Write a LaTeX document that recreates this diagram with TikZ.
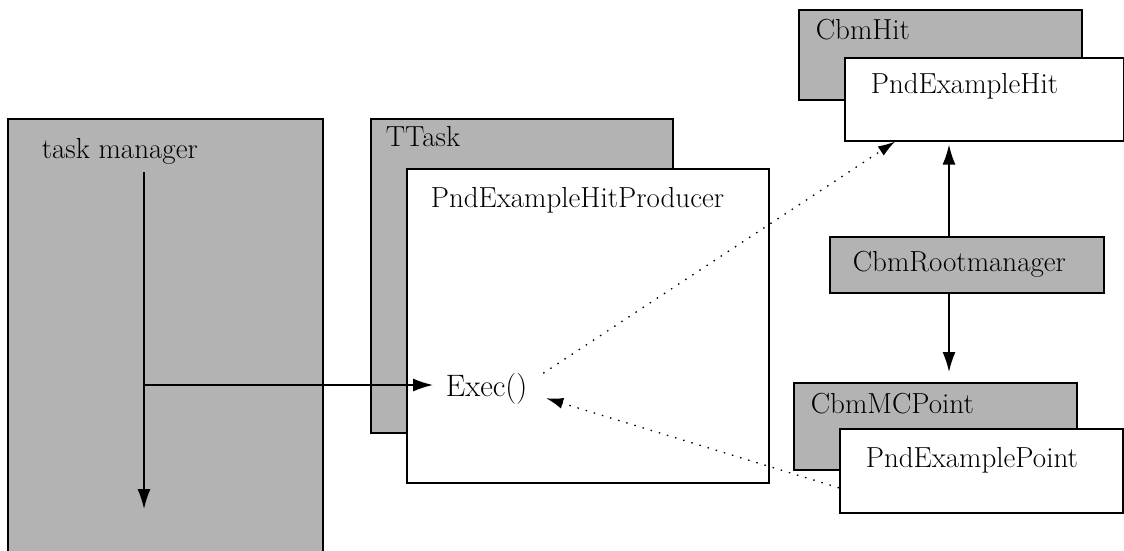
\documentclass[tikz,border=0pt]{standalone}
\usetikzlibrary{arrows.meta}
\definecolor{boxgrey}{RGB}{179,179,179}

\begin{document}
\begin{tikzpicture}[x=1pt,y=-1pt,line width=1.6pt,
  font=\fontsize{29}{35}\selectfont,
  box/.style={draw,anchor=north west,inner sep=0pt,fill=white},
  greybox/.style={box,fill=boxgrey},
  lbl/.style={anchor=base west,inner sep=0pt},
  arr/.style={-{Latex[length=20pt,width=13pt]}},
  dotarr/.style={-{Latex[length=17pt,width=11pt]},line width=1.3pt,dash pattern=on 1.5pt off 7pt}]
\useasboundingbox (0,0) rectangle (1124,551);
\clip (0,0) rectangle (1124,551);
% task manager
\node[greybox,minimum width=315pt,minimum height=445pt] (manager) at (7,118) {};
\node[lbl] (managerlbl) at (41,158) {task manager};
% the task
\node[greybox,minimum width=302pt,minimum height=314pt] (ttask) at (370,118) {};
\node[lbl] (ttasklbl) at (385,146) {TTask};
\node[box,minimum width=362pt,minimum height=314pt] (producer) at (406,168) {};
\node[lbl] (producerlbl) at (430,207) {PndExampleHitProducer};
\node[lbl,font=\fontsize{31}{37}\selectfont] (exec) at (445,396) {Exec()};
% hits
\node[greybox,minimum width=283pt,minimum height=90pt] (cbmhit) at (798,9) {};
\node[lbl] (cbmhitlbl) at (815,40) {CbmHit};
\node[box,minimum width=279pt,minimum height=83pt] (hit) at (844,57) {};
\node[lbl] (hitlbl) at (870,93) {PndExampleHit};
% root manager
\node[greybox,minimum width=274pt,minimum height=56pt] (root) at (829,236) {};
\node[lbl] (rootlbl) at (852,271) {CbmRootmanager};
% points
\node[greybox,minimum width=283pt,minimum height=87pt] (mcpoint) at (793,382) {};
\node[lbl] (mcpointlbl) at (810,413) {CbmMCPoint};
\node[box,minimum width=283pt,minimum height=84pt] (point) at (839,428) {};
\node[lbl] (pointlbl) at (865,467) {PndExamplePoint};
% arrows
\coordinate (mtop) at (144,172);
\coordinate (mfork) at (144,385);
\coordinate (mend) at (144,509);
\draw[arr] (mtop) -- (mend);
\draw[arr,shorten >=12pt] (mfork) -- (mfork -| exec.west);
\coordinate (rootaxis) at (949,264);
\draw[arr,shorten >=3pt] (rootaxis |- root.north) -- (rootaxis |- hit.south);
\draw[arr,shorten >=10pt] (rootaxis |- root.south) -- (rootaxis |- mcpoint.north);
\draw[dotarr] ([shift={(15,-15)}]exec.east) -- ([xshift=51pt]hit.south west);
\draw[dotarr] ([yshift=-17pt]point.west) -- ([shift={(18,10)}]exec.east);
\end{tikzpicture}
\end{document}
